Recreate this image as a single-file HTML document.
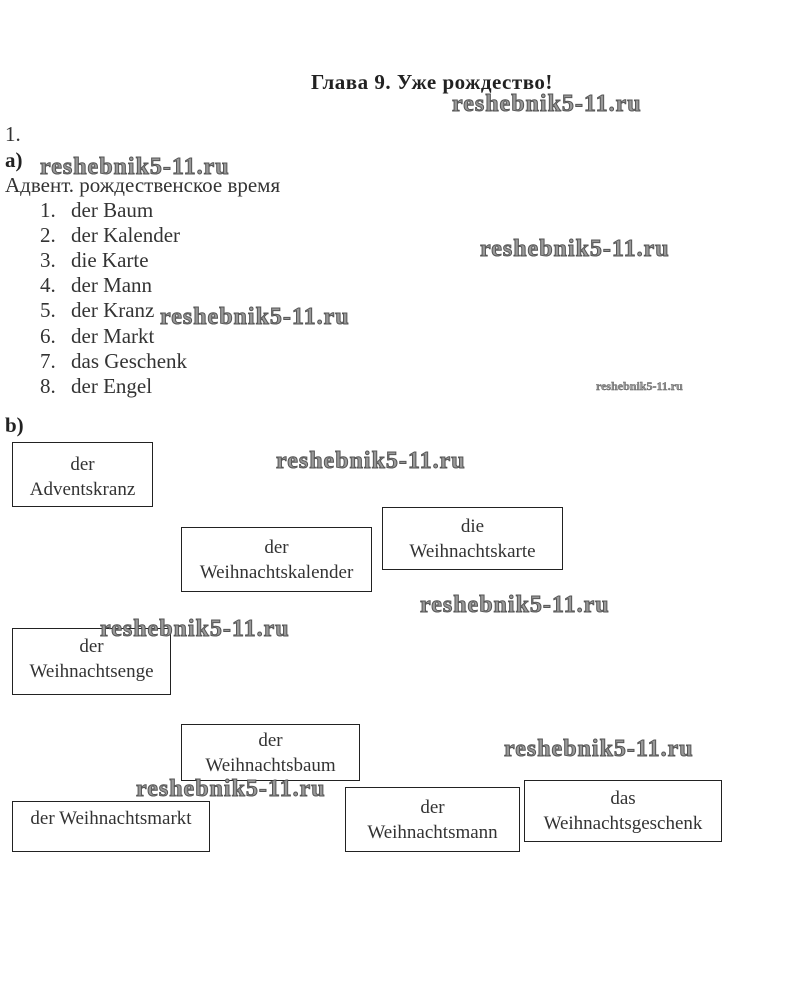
<!DOCTYPE html>
<html><head><meta charset="utf-8"><style>
body{margin:0;width:804px;height:985px;background:#fff;position:relative;overflow:hidden;font-family:"Liberation Serif","Noto Serif CJK SC",serif;color:#222}
.t{position:absolute;white-space:nowrap;font-size:21px;line-height:1;color:#333}
.w{position:absolute;white-space:nowrap;font-weight:bold;font-size:24px;color:#999;-webkit-text-stroke:1px #555;line-height:1;letter-spacing:1px}
.b{position:absolute;border:1px solid #222;box-sizing:border-box;text-align:center;font-size:19px;line-height:25px;display:flex;flex-direction:column;justify-content:center;color:#333}
</style></head><body>
<div class="t" style="left:311px;top:72px;font-weight:bold;font-size:21px;letter-spacing:0.5px;color:#222">Глава 9. Уже рождество!</div>
<div class="w" style="left:452px;top:92px">reshebnik5-11.ru</div>
<div class="t" style="left:5px;top:124px">1.</div>
<div class="t" style="left:5px;top:150px;font-weight:bold;color:#222">a)</div>
<div class="w" style="left:40px;top:155px">reshebnik5-11.ru</div>
<div class="t" style="left:5px;top:175px">Адвент. рождественское время</div>
<div class="t" style="left:40px;top:200px">1.</div><div class="t" style="left:71px;top:200px">der Baum</div>
<div class="t" style="left:40px;top:225px">2.</div><div class="t" style="left:71px;top:225px">der Kalender</div>
<div class="t" style="left:40px;top:250px">3.</div><div class="t" style="left:71px;top:250px">die Karte</div>
<div class="t" style="left:40px;top:275px">4.</div><div class="t" style="left:71px;top:275px">der Mann</div>
<div class="t" style="left:40px;top:300px">5.</div><div class="t" style="left:71px;top:300px">der Kranz</div>
<div class="t" style="left:40px;top:326px">6.</div><div class="t" style="left:71px;top:326px">der Markt</div>
<div class="t" style="left:40px;top:351px">7.</div><div class="t" style="left:71px;top:351px">das Geschenk</div>
<div class="t" style="left:40px;top:376px">8.</div><div class="t" style="left:71px;top:376px">der Engel</div>
<div class="w" style="left:480px;top:237px">reshebnik5-11.ru</div>
<div class="w" style="left:160px;top:305px">reshebnik5-11.ru</div>
<div class="w" style="left:596px;top:380px;font-size:12px;letter-spacing:0;-webkit-text-stroke:0.4px #555">reshebnik5-11.ru</div>
<div class="t" style="left:5px;top:415px;font-weight:bold;color:#222">b)</div>
<div class="b" style="left:12px;top:442px;width:141px;height:65px;padding-top:4px">der<br>Adventskranz</div>
<div class="w" style="left:276px;top:449px">reshebnik5-11.ru</div>
<div class="b" style="left:181px;top:527px;width:191px;height:65px">der<br>Weihnachtskalender</div>
<div class="b" style="left:382px;top:507px;width:181px;height:63px">die<br>Weihnachtskarte</div>
<div class="w" style="left:420px;top:593px">reshebnik5-11.ru</div>
<div class="b" style="left:12px;top:628px;width:159px;height:67px;justify-content:flex-start;padding-top:5px">der<br>Weihnachtsenge</div>
<div class="w" style="left:100px;top:617px">reshebnik5-11.ru</div>
<div class="b" style="left:181px;top:724px;width:179px;height:57px">der<br>Weihnachtsbaum</div>
<div class="w" style="left:504px;top:737px">reshebnik5-11.ru</div>
<div class="w" style="left:136px;top:777px">reshebnik5-11.ru</div>
<div class="b" style="left:12px;top:801px;width:198px;height:51px;justify-content:flex-start;padding-top:4px">der Weihnachtsmarkt</div>
<div class="b" style="left:345px;top:787px;width:175px;height:65px">der<br>Weihnachtsmann</div>
<div class="b" style="left:524px;top:780px;width:198px;height:62px">das<br>Weihnachtsgeschenk</div>
</body></html>
